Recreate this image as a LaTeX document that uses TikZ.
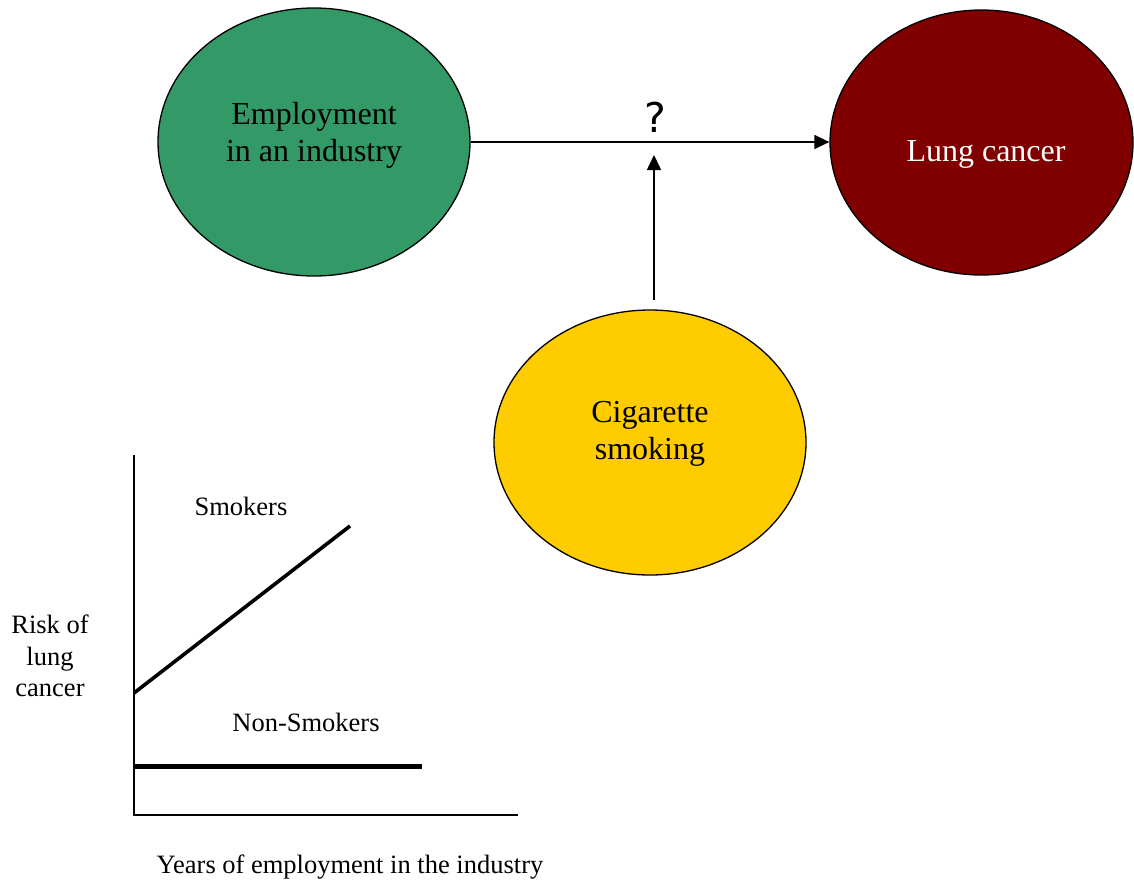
\documentclass[tikz,border=0pt]{standalone}
\usepackage{fontspec}
\setmainfont{Liberation Serif}
\newfontfamily\qfont{DejaVu Sans}
\usetikzlibrary{shapes.geometric,arrows.meta}
\definecolor{empgreen}{HTML}{339966}
\definecolor{cancerred}{HTML}{800000}
\definecolor{smokeyellow}{HTML}{FFCC00}
\tikzset{
  bubble/.style={ellipse, draw=black, line width=1.3pt, inner sep=0pt},
  bubbletext/.style={align=center, font=\fontsize{32}{37}\selectfont},
  plotlabel/.style={align=center, font=\fontsize{26.5}{31.5}\selectfont},
  link/.style={line width=1.6pt, -{Triangle[length=15pt,width=14pt]}},
  axis/.style={line width=1.8pt},
  trend/.style={line width=3.6pt},
}
\begin{document}
\begin{tikzpicture}[x=1pt,y=-1pt]
\useasboundingbox (0,0) rectangle (1134,881);

% causal diagram
\node[bubble, fill=empgreen, minimum width=312pt, minimum height=268pt] (emp) at (314,142) {};
\node[bubble, fill=cancerred, minimum width=303pt, minimum height=265pt] (lung) at (981.5,142.5) {};
\node[bubble, fill=smokeyellow, minimum width=312pt, minimum height=265pt] (smoke) at (650,442.5) {};

\node[bubbletext] (empt) at (314,135) {Employment\\in an industry};
\node[bubbletext, text=white] (lungt) at (986,154) {Lung cancer};
\node[bubbletext] (smoket) at (650,434) {Cigarette\\smoking};

\draw[link] (emp.east) -- (emp.east -| lung.west);
\coordinate (modbase) at (654,300);
\coordinate (modtip) at (654,155);
\draw[link] (modbase) -- (modtip);
\node[font=\qfont\fontsize{41}{43}\selectfont] (q) at (655,117) {?};

% risk plot
\coordinate (origin) at (134,815);
\coordinate (ytop) at (134,455);
\coordinate (xend) at (518,815);
\draw[axis] (ytop) -- (origin) -- (xend);
\coordinate (s0) at (134,693);
\coordinate (s1) at (350,526);
\draw[trend] (s0) -- (s1);
\coordinate (n0) at (134,766.5);
\coordinate (n1) at (422,766.5);
\draw[trend, line width=4.5pt] (n0) -- (n1);

\node[plotlabel] (smk) at (241,506) {Smokers};
\node[plotlabel] (nsmk) at (306,722) {Non-Smokers};
\node[plotlabel] (risk) at (50,656) {Risk of\\lung\\cancer};
\node[plotlabel] (years) at (350,867) {Years of employment in the industry};
\end{tikzpicture}
\end{document}
